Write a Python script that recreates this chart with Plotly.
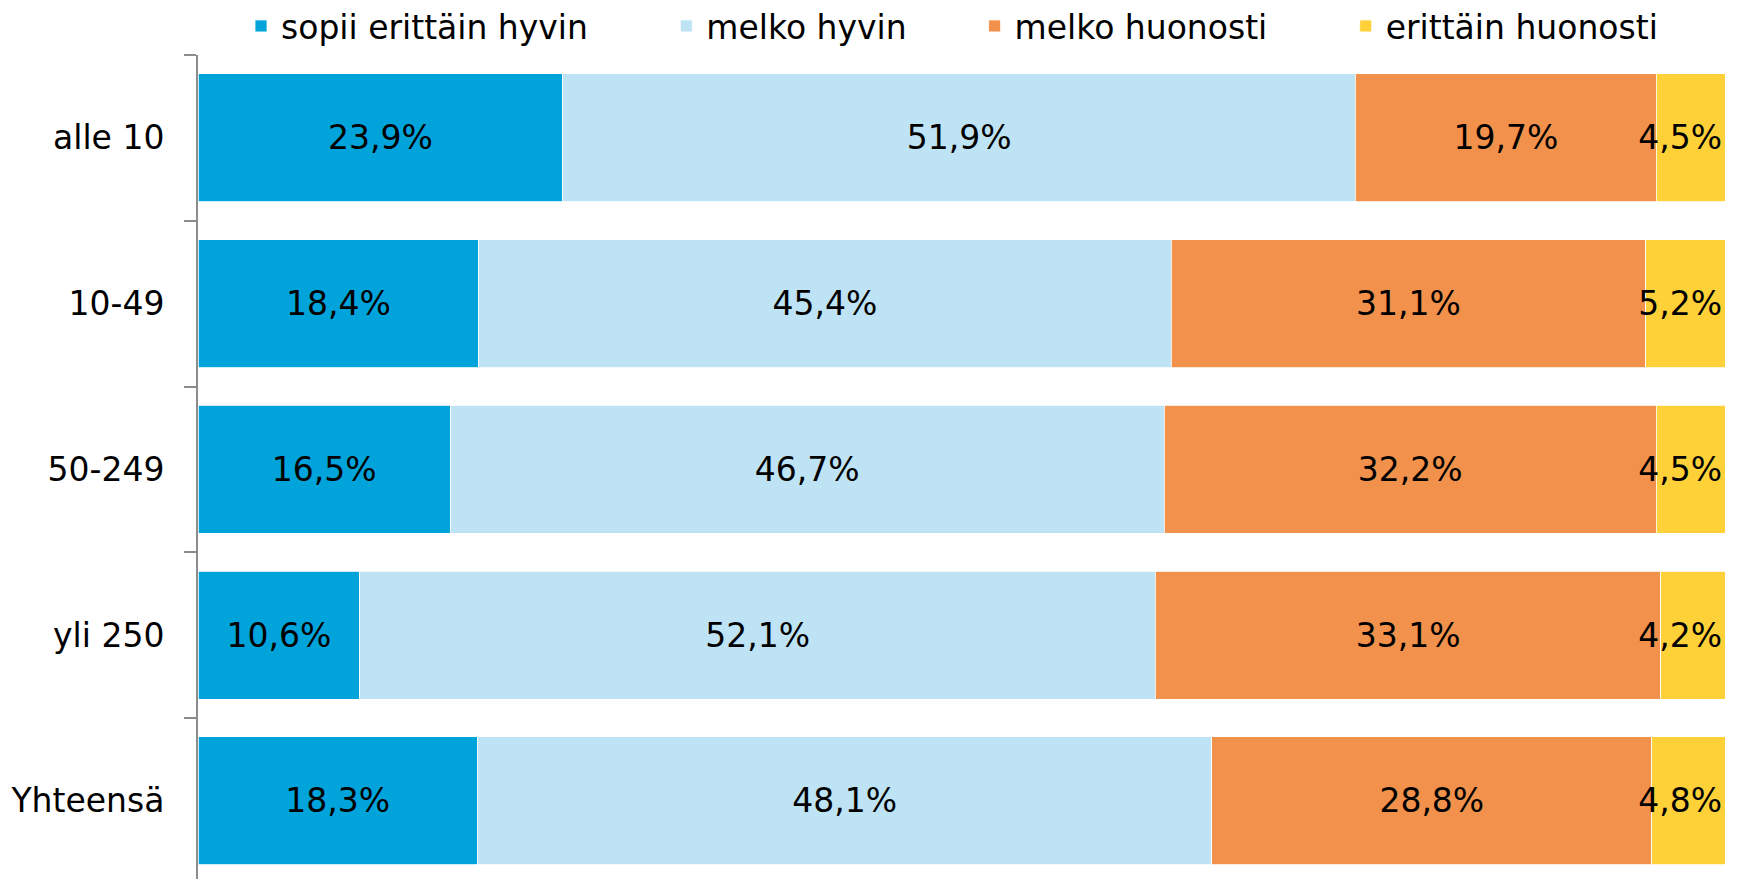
import plotly.graph_objects as go

categories = ["alle 10", "10-49", "50-249", "yli 250", "Yhteensä"]
series_names = ["sopii erittäin hyvin", "melko hyvin", "melko huonosti", "erittäin huonosti"]
sopii_erittain_hyvin = [23.9, 18.4, 16.5, 10.6, 18.3]
melko_hyvin = [51.9, 45.4, 46.7, 52.1, 48.1]
melko_huonosti = [19.7, 31.1, 32.2, 33.1, 28.8]
erittain_huonosti = [4.5, 5.2, 4.5, 4.2, 4.8]

series_values = [sopii_erittain_hyvin, melko_hyvin, melko_huonosti, erittain_huonosti]
colors = ["#00A3DA", "#BEE3F5", "#F1914B", "#FFD139"]
pad_spaces = [7, 6, 7, 0]

FONT = "DejaVu Sans"
NBSP = "\u00a0"


def fmt(v):
    return f"{v:.1f}".replace(".", ",") + "%"


fig = go.Figure()
for name, vals, col, pad in zip(series_names, series_values, colors, pad_spaces):
    fig.add_trace(go.Bar(
        y=categories,
        x=vals,
        orientation="h",
        name=name + NBSP * pad,
        marker=dict(color=col, line=dict(color="white", width=0.8)),
        text=[fmt(v) for v in vals],
        textposition="inside",
        insidetextanchor="end" if name == "erittäin huonosti" else "middle",
        textangle=0,
        constraintext="none",
        textfont=dict(family=FONT, size=33, color="black"),
        hoverinfo="skip",
    ))

W, H = 1746, 879
L, R, T, B = 198, 21, 55, 0
plot_w = W - L - R
plot_h = H - T - B
fig.update_layout(
    width=W,
    height=H,
    barmode="stack",
    barnorm="percent",
    bargap=0.228,
    plot_bgcolor="white",
    paper_bgcolor="white",
    margin=dict(l=L, r=R, t=T, b=B, autoexpand=False),
    font=dict(family=FONT, size=33, color="black"),
    showlegend=True,
    legend=dict(
        orientation="h",
        x=(241 - L) / plot_w,
        xanchor="left",
        y=1 + (T + 2) / plot_h,
        yanchor="top",
        font=dict(family=FONT, size=33, color="black"),
        bgcolor="rgba(0,0,0,0)",
        borderwidth=0,
        traceorder="normal",
    ),
    xaxis=dict(
        range=[0, 100],
        visible=False,
        showgrid=False,
        zeroline=False,
    ),
    yaxis=dict(
        type="category",
        categoryorder="array",
        categoryarray=categories,
        range=[4.471, -0.5],
        showline=True,
        linecolor="#8C8C8C",
        linewidth=2,
        ticks="outside",
        ticklen=12,
        tickwidth=2,
        tickcolor="#8C8C8C",
        tickson="boundaries",
        ticklabelstandoff=25,
        showgrid=False,
        zeroline=False,
        tickfont=dict(family=FONT, size=33, color="black"),
    ),
)

fig.write_html(
    "out.html",
    config={"displayModeBar": False},
    post_script="document.body.style.margin='0';document.body.style.overflow='hidden';",
)
